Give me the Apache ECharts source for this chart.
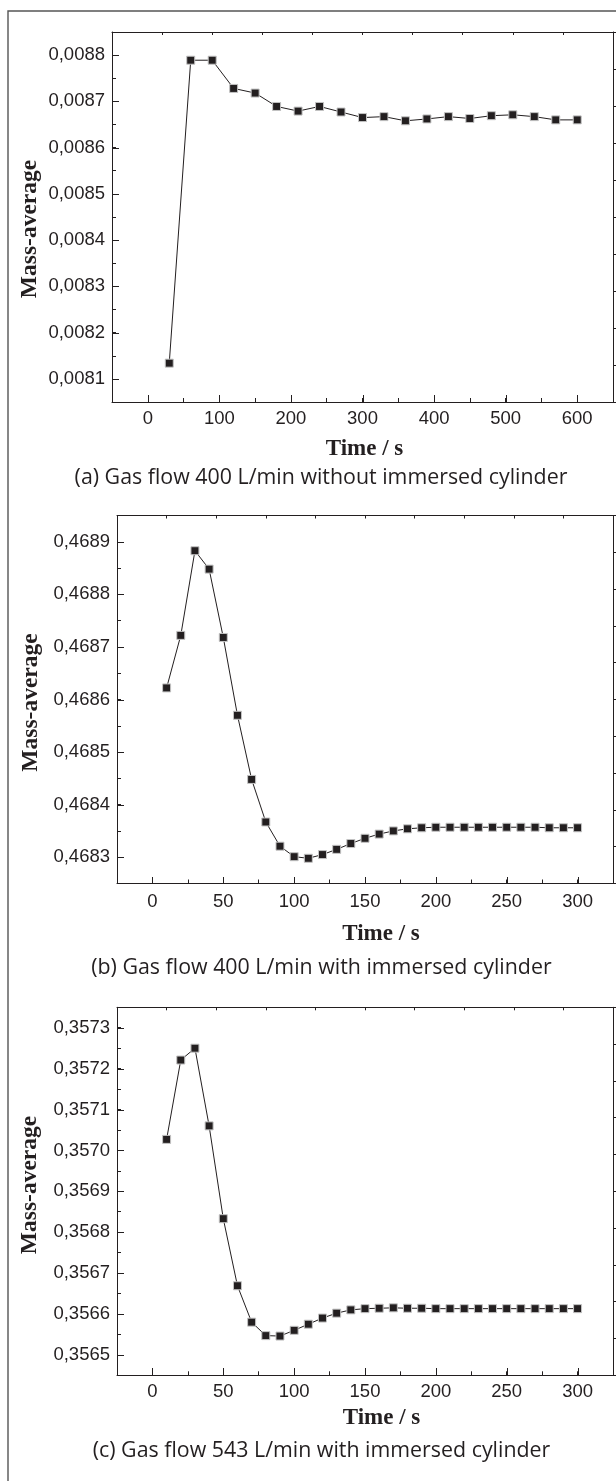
<!DOCTYPE html>
<html>
<head>
<meta charset="utf-8">
<script src="https://cdn.jsdelivr.net/npm/echarts@6/dist/echarts.min.js"></script>
<style>
html,body{margin:0;padding:0;background:#fff;}
#chart{width:616px;height:1481px;}
</style>
</head>
<body>
<div id="chart"></div>
<script>
// ---------------- data ----------------
const timeA = [30,60,90,120,150,180,210,240,270,300,330,360,390,420,450,480,510,540,570,600];
const massA = [0.008134,0.008789,0.008789,0.008728,0.008718,0.008689,0.008679,0.008689,0.008677,0.008665,
               0.008667,0.008658,0.008662,0.008667,0.008663,0.008669,0.008671,0.008667,0.008660,0.008660];

const timeB = [10,20,30,40,50,60,70,80,90,100,110,120,130,140,150,160,170,180,190,200,210,220,230,240,250,260,270,280,290,300];
const massB = [0.468622,0.468722,0.468883,0.468848,0.468718,0.468570,0.468448,0.468367,0.468321,0.468301,
               0.468298,0.468305,0.468315,0.468326,0.468336,0.468344,0.468350,0.468354,0.468356,0.468357,
               0.468357,0.468357,0.468357,0.468357,0.468357,0.468357,0.468357,0.468356,0.468356,0.468356];

const timeC = [10,20,30,40,50,60,70,80,90,100,110,120,130,140,150,160,170,180,190,200,210,220,230,240,250,260,270,280,290,300];
const massC = [0.357027,0.357221,0.357250,0.357060,0.356833,0.356669,0.356580,0.356547,0.356546,0.356560,
               0.356575,0.356590,0.356602,0.356610,0.356613,0.356614,0.356615,0.356614,0.356614,0.356613,
               0.356613,0.356613,0.356613,0.356613,0.356613,0.356613,0.356613,0.356613,0.356613,0.356613];

const xTicksA = [0,100,200,300,400,500,600];
const yTicksA = [0.0081,0.0082,0.0083,0.0084,0.0085,0.0086,0.0087,0.0088];
const xTicksBC = [0,50,100,150,200,250,300];
const yTicksB = [0.4683,0.4684,0.4685,0.4686,0.4687,0.4688,0.4689];
const yTicksC = [0.3565,0.3566,0.3567,0.3568,0.3569,0.3570,0.3571,0.3572,0.3573];

const xTitle = 'Time / s';
const yTitle = 'Mass-average';
const captions = [
  '(a) Gas flow 400 L/min without immersed cylinder',
  '(b) Gas flow 400 L/min with immersed cylinder',
  '(c) Gas flow 543 L/min with immersed cylinder'
];

// ---------------- layout / style ----------------
const INK = '#231f20';
const SANS = '"Liberation Sans", Arial, sans-serif';
const SERIF = '"Liberation Serif", "Times New Roman", serif';
const CAP_FONT = '"Open Sans", "Noto Sans", sans-serif';

const panels = [
  {grid:{left:112, top:32, width:501, height:370},
   x:{min:-50, max:650, step:50, ticks:xTicksA}, y:{min:0.00805, max:0.00885, step:0.00005, ticks:yTicksA},
   t:timeA, v:massA, labelMarginX:7,
   xTitle:[364.5,449], cap:[321,478], yTitle:[29.5,229]},
  {grid:{left:117, top:515.5, width:497, height:368},
   x:{min:-25, max:325, step:25, ticks:xTicksBC}, y:{min:0.46825, max:0.46895, step:0.00005, ticks:yTicksB},
   t:timeB, v:massB, labelMarginX:9,
   xTitle:[381,934], cap:[321.4,968], yTitle:[30.5,702.5]},
  {grid:{left:117, top:1007.3, width:497, height:368},
   x:{min:-25, max:325, step:25, ticks:xTicksBC}, y:{min:0.35645, max:0.35735, step:0.00005, ticks:yTicksC},
   t:timeC, v:massC, labelMarginX:7,
   xTitle:[381.5,1418], cap:[321.5,1451], yTitle:[30,1185]}
];

// caption font size fitted to the measured caption width of panel (a)
const cv = document.createElement('canvas').getContext('2d');
cv.font = '20px ' + CAP_FONT;
const capSize = 20 * 493 / cv.measureText(captions[0]).width;

const grids = [], xAxes = [], yAxes = [], series = [], graphics = [];
const near = (arr, v, eps) => arr.some(t => Math.abs(t - v) < eps);

panels.forEach((p, i) => {
  grids.push(Object.assign({containLabel:false}, p.grid));
  const lineCfg = {show:true, onZero:false, lineStyle:{color:INK, width:1}};
  // bottom x
  xAxes.push({type:'value', gridIndex:i, position:'bottom', min:p.x.min, max:p.x.max, interval:p.x.step,
    axisLine:lineCfg, splitLine:{show:false},
    axisTick:{show:true, inside:true, length:4, lineStyle:{color:INK, width:1}},
    axisLabel:{show:true, margin:p.labelMarginX, color:INK, fontFamily:SANS, fontSize:18.5,
      formatter:v => near(p.x.ticks, v, 1e-6) ? String(Math.round(v)) : ''}});
  // top mirror x
  xAxes.push({type:'value', gridIndex:i, position:'top', min:0, max:10, interval:1,
    axisLine:lineCfg, splitLine:{show:false},
    axisTick:{show:true, inside:true, length:3, lineStyle:{color:INK, width:1}},
    axisLabel:{show:false}});
  // left y
  yAxes.push({type:'value', gridIndex:i, position:'left', min:p.y.min, max:p.y.max, interval:p.y.step,
    axisLine:lineCfg, splitLine:{show:false},
    axisTick:{show:true, inside:true, length:4, lineStyle:{color:INK, width:1}},
    axisLabel:{show:true, margin:7, color:INK, fontFamily:SANS, fontSize:18.5,
      formatter:v => near(p.y.ticks, v, 1e-9) ? v.toFixed(4).replace('.', ',') : ''}});
  // right mirror y
  yAxes.push({type:'value', gridIndex:i, position:'right', min:0, max:10, interval:1,
    axisLine:lineCfg, splitLine:{show:false},
    axisTick:{show:true, inside:false, length:3, lineStyle:{color:INK, width:1}},
    axisLabel:{show:false}});

  const xi = 2*i, yi = 2*i;
  // data line
  series.push({type:'line', xAxisIndex:xi, yAxisIndex:yi, data:p.t.map((t,k)=>[t, p.v[k]]),
    symbol:'rect', symbolSize:8, showAllSymbol:true, z:3,
    lineStyle:{color:INK, width:1}, itemStyle:{color:INK, borderColor:'#c4c4c4', borderWidth:1},
    emphasis:{disabled:true}});
  // longer major ticks (y)
  series.push({type:'custom', xAxisIndex:xi, yAxisIndex:yi, silent:true, clip:false, z:4,
    data:p.y.ticks.map(v=>[p.x.min, v]),
    renderItem:(params, api) => {
      const c = api.coord([api.value(0), api.value(1)]);
      const y = Math.round(c[1]) + 0.5, x = Math.round(c[0]);
      return {type:'line', shape:{x1:x, y1:y, x2:x+7, y2:y}, style:{stroke:INK, lineWidth:1}};
    }});
  // longer major ticks (x)
  series.push({type:'custom', xAxisIndex:xi, yAxisIndex:yi, silent:true, clip:false, z:4,
    data:p.x.ticks.map(v=>[v, p.y.min]),
    renderItem:(params, api) => {
      const c = api.coord([api.value(0), api.value(1)]);
      const x = Math.round(c[0]) + 0.5, y = Math.round(c[1]);
      return {type:'line', shape:{x1:x, y1:y, x2:x, y2:y-7}, style:{stroke:INK, lineWidth:1}};
    }});

  graphics.push({type:'text', x:p.xTitle[0], y:p.xTitle[1],
    style:{text:xTitle, fill:INK, font:'bold 23px ' + SERIF, align:'center', verticalAlign:'middle',
           textAlign:'center', textVerticalAlign:'middle'}});
  graphics.push({type:'text', x:p.yTitle[0], y:p.yTitle[1], rotation:Math.PI/2,
    style:{text:yTitle, fill:INK, font:'bold 23.5px ' + SERIF, align:'center', verticalAlign:'middle',
           textAlign:'center', textVerticalAlign:'middle'}});
  graphics.push({type:'text', x:p.cap[0], y:p.cap[1],
    style:{text:captions[i], fill:INK, font:capSize.toFixed(2) + 'px ' + CAP_FONT, align:'center', verticalAlign:'middle',
           textAlign:'center', textVerticalAlign:'middle'}});
});

// outer frame (left and top rules)
graphics.push({type:'polyline', shape:{points:[[8,1481],[8,11],[616,11]]}, style:{stroke:'#555', lineWidth:1.4, fill:null}});

const chart = echarts.init(document.getElementById('chart'), null, {renderer:'canvas', width:616, height:1481});
chart.setOption({
  animation:false,
  backgroundColor:'#fff',
  grid:grids, xAxis:xAxes, yAxis:yAxes, series:series, graphic:graphics
});
</script>
</body>
</html>
